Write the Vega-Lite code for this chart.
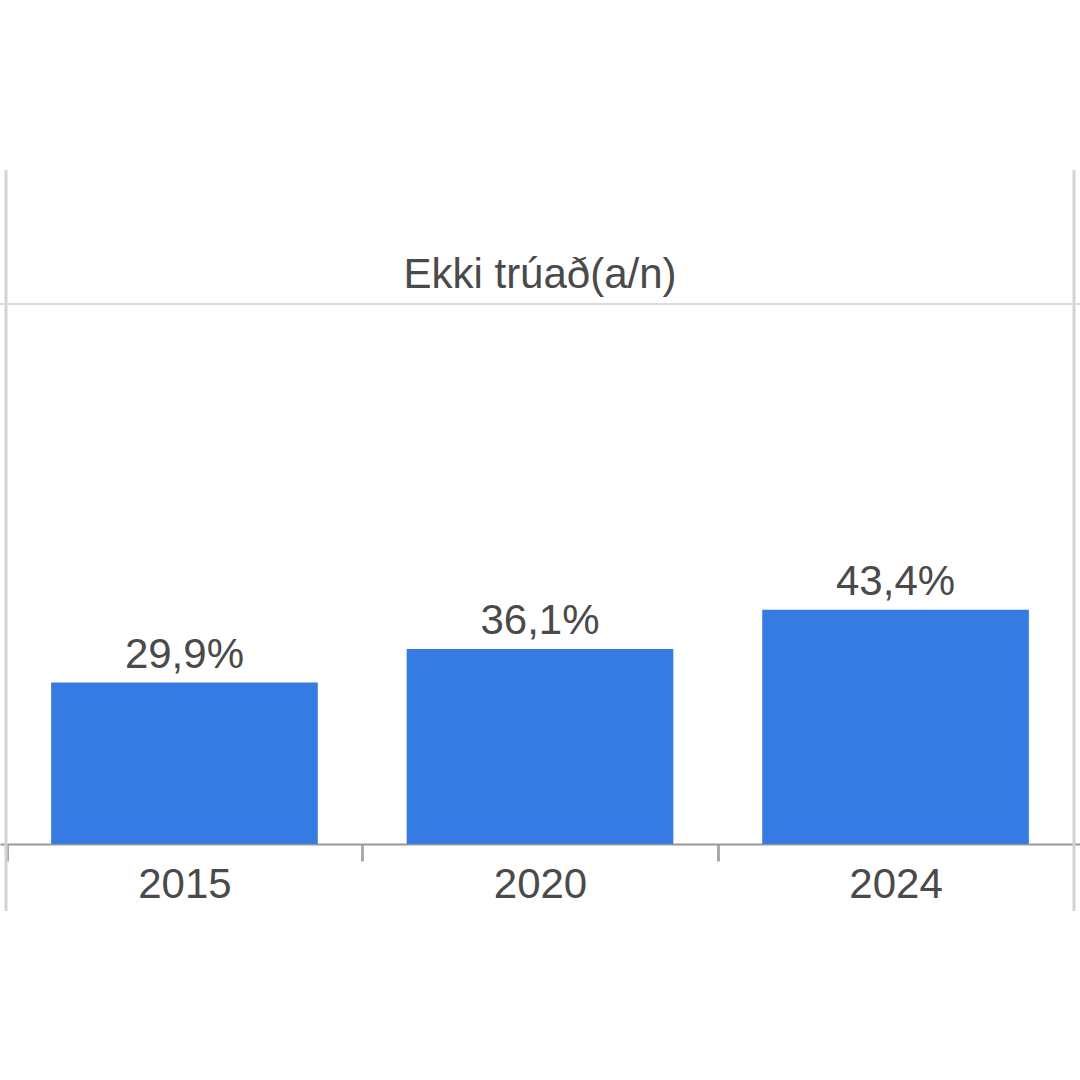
{
  "$schema": "https://vega.github.io/schema/vega-lite/v6.json",
  "width": 1080,
  "height": 540,
  "autosize": {"type": "none"},
  "padding": {"top": 304, "left": 0, "right": 0, "bottom": 236},
  "background": "white",
  "title": {
    "text": "Ekki trúað(a/n)",
    "fontSize": 42,
    "fontWeight": "normal",
    "color": "#4a4a4a",
    "font": "Liberation Sans",
    "anchor": "middle",
    "frame": "group",
    "baseline": "alphabetic",
    "offset": -161
  },
  "config": {
    "view": {"stroke": null},
    "font": "Liberation Sans",
    "locale": {
      "number": {"decimal": ",", "thousands": ".", "grouping": [3], "currency": ["", ""]}
    }
  },
  "datasets": {
    "bars": [
      {"year": "2015", "share": 0.299},
      {"year": "2020", "share": 0.361},
      {"year": "2024", "share": 0.434}
    ],
    "frame": [
      {"edge": "left"},
      {"edge": "right"}
    ],
    "grid": [
      {"level": 1}
    ]
  },
  "layer": [
    {
      "data": {"name": "frame"},
      "mark": {"type": "rule", "color": "#d3d3d3", "strokeWidth": 3},
      "encoding": {
        "x": {
          "field": "edge",
          "type": "nominal",
          "scale": {"type": "point", "padding": 0.0056, "domain": ["left", "right"]},
          "axis": null
        },
        "y": {"datum": 1.248, "type": "quantitative", "scale": {"domain": [0, 1]}, "axis": null},
        "y2": {"datum": -0.124}
      }
    },
    {
      "layer": [
        {
          "data": {"name": "grid"},
          "mark": {"type": "rule", "color": "#dcdcdc", "strokeWidth": 2},
          "encoding": {
            "y": {"field": "level", "type": "quantitative", "scale": {"domain": [0, 1]}, "axis": null}
          }
        },
        {
          "data": {"name": "bars"},
          "mark": {"type": "bar", "color": "#367be2"},
          "encoding": {
            "x": {
              "field": "year",
              "type": "nominal",
              "scale": {"paddingInner": 0.25, "paddingOuter": 0.14375},
              "axis": {
                "title": null,
                "labelFontSize": 42,
                "labelColor": "#4a4a4a",
                "labelAngle": 0,
                "labelFont": "Liberation Sans",
                "bandPosition": 0,
                "tickOffset": -44.44,
                "labelOffset": 44.44,
                "tickSize": 17,
                "tickWidth": 3,
                "tickColor": "#aaaaaa",
                "domainColor": "#999999",
                "domainWidth": 2,
                "labelPadding": 36,
                "labelBaseline": "alphabetic",
                "grid": false
              }
            },
            "y": {"field": "share", "type": "quantitative", "scale": {"domain": [0, 1]}, "axis": null}
          }
        },
        {
          "data": {"name": "bars"},
          "mark": {"type": "text", "dy": -15, "baseline": "alphabetic", "fontSize": 42, "color": "#4a4a4a", "font": "Liberation Sans"},
          "encoding": {
            "x": {"field": "year", "type": "nominal"},
            "y": {"field": "share", "type": "quantitative"},
            "text": {"field": "share", "type": "quantitative", "format": ".1%"}
          }
        }
      ]
    }
  ],
  "resolve": {"scale": {"x": "independent"}}
}
